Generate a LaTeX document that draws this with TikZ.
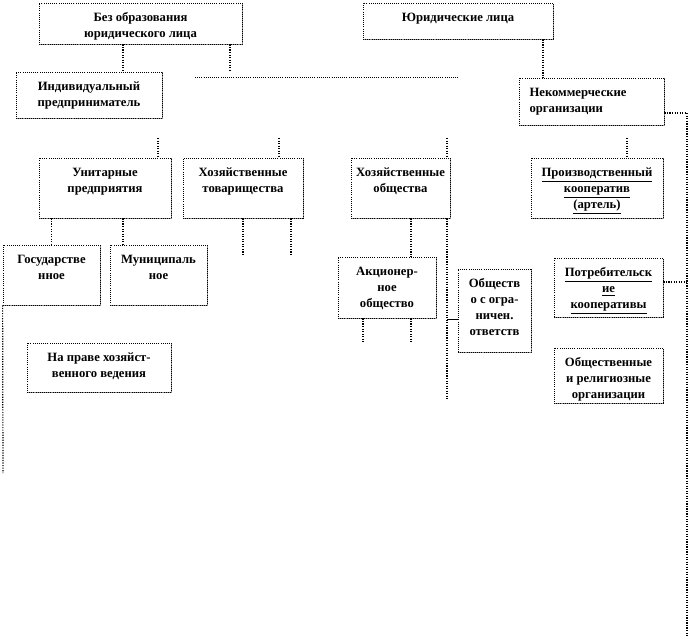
\documentclass[tikz,border=0pt]{standalone}
\usepackage{fontspec}
\setmainfont{Liberation Serif}
\usepackage{tikz}
\usetikzlibrary{positioning, fit, shadows}
\definecolor{shade}{HTML}{8C8C8C}
\tikzset{
  orgbox/.style={draw, densely dotted, line width=0.6pt, fill=white, inner sep=0pt,
    drop shadow={shadow xshift=0.8pt, shadow yshift=-0.8pt, fill=shade, opacity=1}},
  orgtext/.style={anchor=north, align=center, inner sep=2pt, yshift=-5.5pt,
    font=\fontsize{9.5}{12}\selectfont\bfseries},
  link/.style={densely dotted, line width=0.9pt}
}

\begin{document}
\begin{tikzpicture}[x=0.75pt, y=-0.75pt]
      \useasboundingbox (0,0) rectangle (688,638);

      % top level
      \node[orgbox, fit={(39,3) (242,44)},
            label={[orgtext]north:Без образования\\юридического лица}] (bez) {};
      \node[orgbox, fit={(363,3) (553,39)},
            label={[orgtext]north:Юридические лица}] (jur) {};
      \node[orgbox, fit={(16,72) (162,118)},
            label={[orgtext]north:Индивидуальный\\предприниматель}] (ind) {};
      \node[orgbox, fit={(519,78) (664,125)},
            label={[orgtext, anchor=north west, align=left, xshift=6pt]north west:Некоммерческие\\организации}] (nek) {};

      % second level
      \node[orgbox, fit={(39,158) (171,218)},
            label={[orgtext]north:Унитарные\\предприятия}] (uni) {};
      \node[orgbox, fit={(183,158) (303,218)},
            label={[orgtext]north:Хозяйственные\\товарищества}] (tov) {};
      \node[orgbox, fit={(351,158) (450,218)},
            label={[orgtext]north:Хозяйственные\\общества}] (obs) {};
      \node[orgbox, fit={(531,158) (663,218)},
            label={[orgtext]north:\underline{Производственный}\\\underline{кооператив}\\\underline{(артель)}}] (proi) {};

      % third level
      \node[orgbox, fit={(3,245) (100,305)},
            label={[orgtext]north:Государстве\\нное}] (gos) {};
      \node[orgbox, fit={(110,245) (207,305)},
            label={[orgtext]north:Муниципаль\\ное}] (mun) {};
      \node[orgbox, fit={(338,257) (436,318)},
            label={[orgtext]north:Акционер-\\ное\\общество}] (akc) {};
      \node[orgbox, fit={(458,269) (531,352)},
            label={[orgtext]north:Обществ\\о с огра-\\ничен.\\ответств}] (ooo) {};
      \node[orgbox, fit={(554,258) (663,317)},
            label={[orgtext]north:\underline{Потребительск}\\\underline{ие}\\\underline{кооперативы}}] (potr) {};
      \node[orgbox, fit={(27,343) (171,392)},
            label={[orgtext]north:На праве хозяйст-\\венного ведения}] (prav) {};
      \node[orgbox, fit={(554,348) (663,403)},
            label={[orgtext]north:Общественные\\и религиозные\\организации}] (obrel) {};

      % free ends
      \coordinate (bezend) at (230,70);
      \coordinate (hleft) at (195,77);
      \coordinate (hright) at (458,77);
      \coordinate (rbot) at (687,637);
      \coordinate (tovend1) at (243,256);
      \coordinate (tovend2) at (291,256);
      \coordinate (obsend) at (447,400);
      \coordinate (akcend1) at (363,343);
      \coordinate (akcend2) at (411,343);
      \coordinate (gosend) at (3,473);

      \draw[link] (bez.south -| 123,0) -- (ind.north -| 123,0);
      \draw[link] (bez.south -| bezend) -- (bezend);
      \draw[link, line width=0.6pt] (hleft) -- (hright);
      \draw[link] (jur.south -| 543,0) -- (nek.north -| 543,0);
      \draw[link] (nek.east |- 0,113) -| (rbot);
      \draw[link] (potr.east |- 0,282) -- (rbot |- 0,282);

      \foreach \tx/\nm in {158/uni, 279/tov, 447/obs, 627/proi} {
        \coordinate (tick-\nm) at (\tx,138);
        \draw[link] (tick-\nm) -- (\nm.north -| tick-\nm);
      }

      \draw[link] (uni.south -| gos.north) -- (gos.north);
      \draw[link] (uni.south -| 123,0) -- (mun.north -| 123,0);
      \draw[link] (tov.south -| tovend1) -- (tovend1);
      \draw[link] (tov.south -| tovend2) -- (tovend2);
      \draw[link] (obs.south -| akcend2) -- (akc.north -| akcend2);
      \draw[link] (obs.south -| obsend) -- (obsend);
      \draw (ooo.west |- 0,319) -- (obsend |- 0,319);
      \draw[link] (akc.south -| akcend1) -- (akcend1);
      \draw[link] (akc.south -| akcend2) -- (akcend2);
      \draw[link] (gos.south west) -- (gosend);
\end{tikzpicture}
\end{document}
